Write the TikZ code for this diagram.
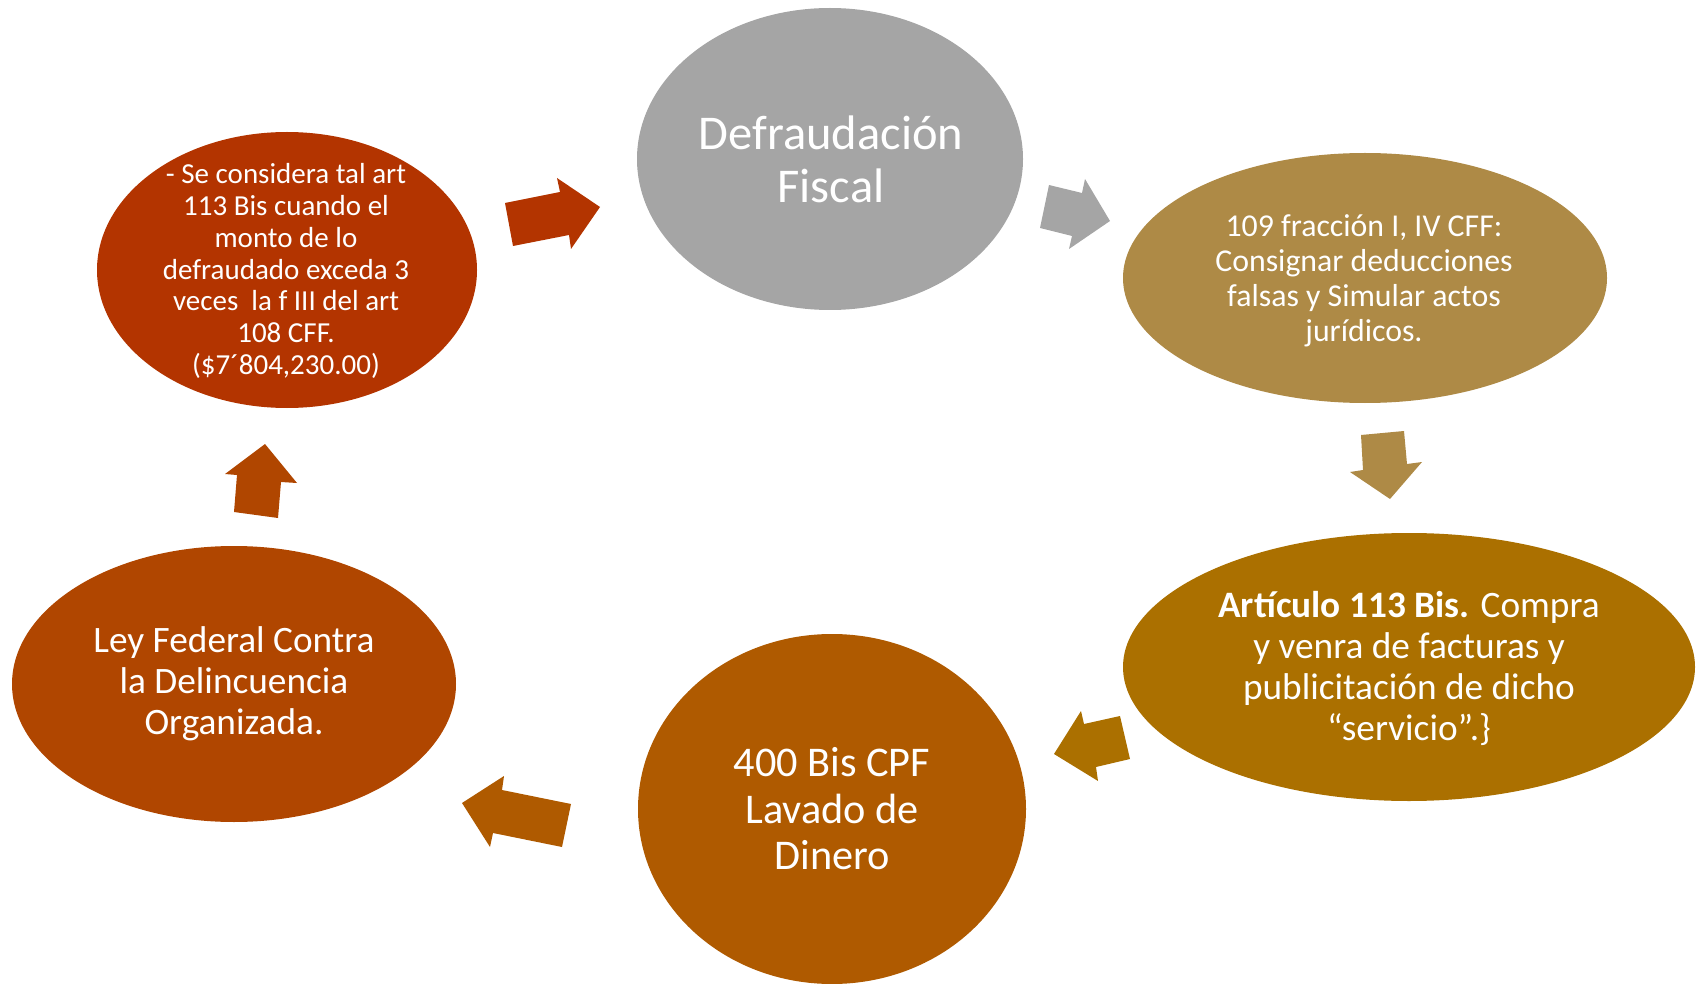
\documentclass[tikz,border=0pt]{standalone}
\usepackage{fontspec}
\setmainfont{Carlito}
\usetikzlibrary{shapes.geometric}
\definecolor{grisDF}{HTML}{A5A5A5}
\definecolor{oroCFF}{HTML}{AE8A46}
\definecolor{ocreArt}{HTML}{AB7000}
\definecolor{cafeLD}{HTML}{AF5A00}
\definecolor{naranjaLF}{HTML}{B04600}
\definecolor{rojoMonto}{HTML}{B33400}

\begin{document}
\begin{tikzpicture}[x=1pt,y=-1pt,
    bubble/.style={ellipse,inner sep=0pt,draw=none},
    txt/.style={white,align=center,inner sep=0pt}]
    \useasboundingbox (0,0) rectangle (1698,984);
    \node[bubble,fill=grisDF,minimum width=386pt,minimum height=302pt]    (DF)    at (830,159)  {};
    \node[bubble,fill=oroCFF,minimum width=484pt,minimum height=250pt]    (CFF)   at (1365,278) {};
    \node[bubble,fill=ocreArt,minimum width=572pt,minimum height=268pt]   (Art)   at (1409,667) {};
    \node[bubble,fill=cafeLD,minimum width=388pt,minimum height=350pt]    (LD)    at (832,809)  {};
    \node[bubble,fill=naranjaLF,minimum width=444pt,minimum height=276pt] (LFDO)  at (234,684)  {};
    \node[bubble,fill=rojoMonto,minimum width=380pt,minimum height=276pt] (Monto) at (287,270)  {};
    \begin{scope}[every node/.style={txt}]
        \node[font=\fontsize{48.5}{53}\selectfont] (DF-t)    at (831,159) {Defraudación\\Fiscal};
        \node[font=\fontsize{31.8}{35}\selectfont] (CFF-t)   at (1364,281) {109 fracción I, IV CFF:\\Consignar deducciones\\falsas y Simular actos\\jurídicos.};
        \node[font=\fontsize{37.3}{41}\selectfont] (Art-t)   at (1409,668) {\textbf{Artículo 113 Bis.} Compra\\y venra de facturas y\\publicitación de dicho\\“servicio”.\}};
        \node[font=\fontsize{42.3}{46.5}\selectfont] (LD-t)    at (832,809) {400 Bis CPF\\Lavado de\\Dinero};
        \node[font=\fontsize{37.3}{41}\selectfont] (LFDO-t)  at (234,684) {Ley Federal Contra\\la Delincuencia\\Organizada.};
        \node[font=\fontsize{29}{31.8}\selectfont] (Monto-t) at (286,271) {- Se considera tal art\\113 Bis cuando el\\monto de lo\\defraudado exceda 3\\veces\ \ la f III del art\\108 CFF.\\(\$7´804,230.00)};
    \end{scope}
    \fill[rojoMonto] (505,203) -- (560,192) -- (557,178) -- (600,207) -- (571,249) -- (569,235) -- (513,246) -- cycle;
    \fill[grisDF]    (1049,185) -- (1082,193) -- (1085,179) -- (1110,221) -- (1069,249) -- (1072,236) -- (1040,228) -- cycle;
    \fill[oroCFF]    (1361,435) -- (1404,431) -- (1407,464) -- (1422,462) -- (1390,499) -- (1350,472) -- (1363,470) -- cycle;
    \fill[ocreArt]   (1120,716) -- (1084,724) -- (1081,711) -- (1054,754) -- (1098,781) -- (1096,767) -- (1130,759) -- cycle;
    \fill[cafeLD]    (571,804) -- (502,790) -- (504,776) -- (462,803) -- (490,847) -- (493,833) -- (562,847) -- cycle;
    \fill[naranjaLF] (234,512) -- (237,475) -- (225,474) -- (265,444) -- (297,483) -- (281,482) -- (278,518) -- cycle;
\end{tikzpicture}
\end{document}
